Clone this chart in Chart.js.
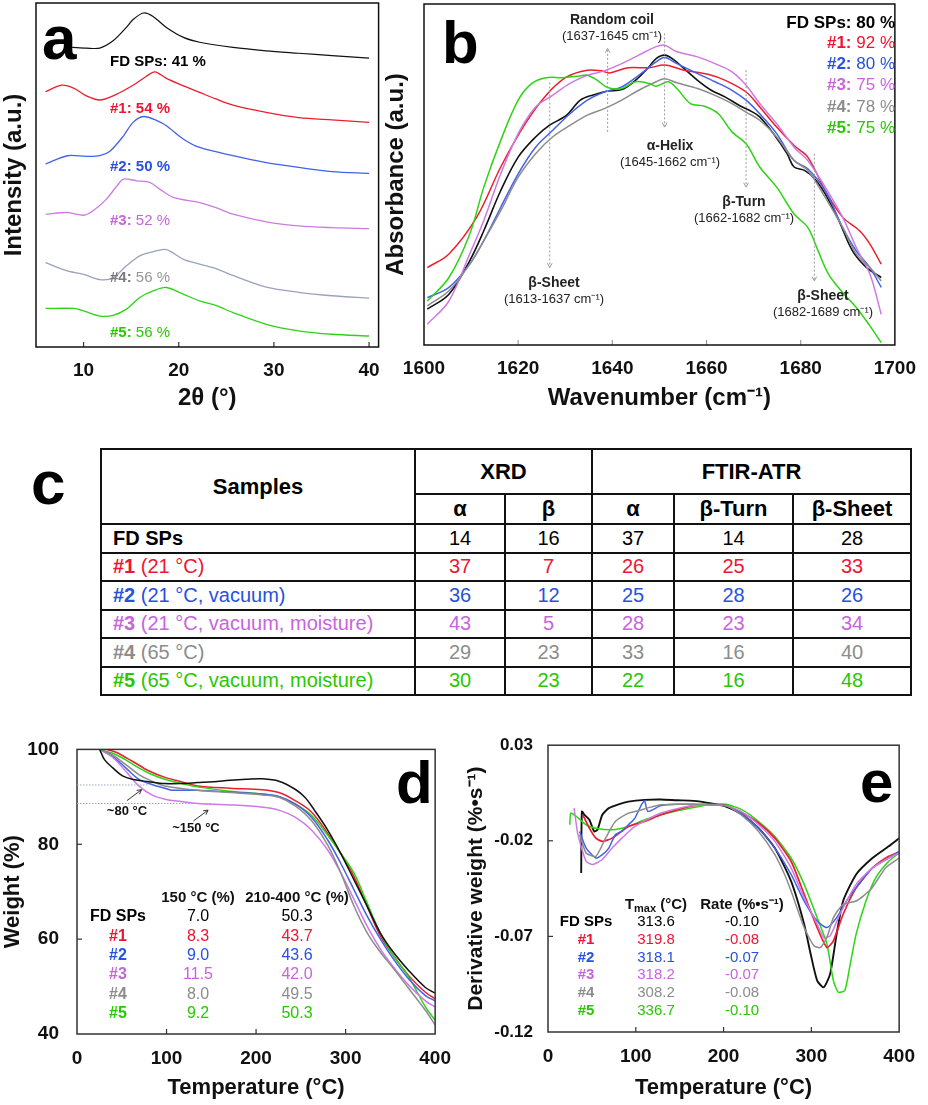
<!DOCTYPE html>
<html>
<head>
<meta charset="utf-8">
<script src="https://cdn.jsdelivr.net/npm/chart.js@4.4.1/dist/chart.umd.min.js"></script>
<style>
body{margin:0;background:#fff;width:928px;height:1105px;position:relative;overflow:hidden;font-family:"Liberation Sans",Arial,sans-serif}
canvas{position:absolute}
#ca{left:0;top:0}
#cb{left:380px;top:0}
#cd{left:0;top:720px}
#ce{left:464px;top:720px}
#lc{position:absolute;left:31px;top:452px;font:bold 62px/62px "Liberation Sans",Arial,sans-serif;color:#000}
#tc{position:absolute;left:100px;top:448px;width:810px;border-collapse:collapse;table-layout:fixed;font-size:20px;color:#000}
#tc td,#tc th{border:2px solid #111;text-align:center;padding:0;white-space:nowrap}
#tc th{font-size:22px;font-weight:bold}
#tc tr.h1{height:45px}
#tc tr.h2{height:30px}
#tc tr.d{height:28.5px}
#tc td.s{text-align:left;padding-left:11px}
</style>
</head>
<body>
<canvas id="ca" width="392" height="420"></canvas>
<canvas id="cb" width="548" height="420"></canvas>
<div id="lc">c</div>
<table id="tc"></table>
<canvas id="cd" width="464" height="385"></canvas>
<canvas id="ce" width="464" height="385"></canvas>
<script>
// ---- samples ----
const sampleNames = ['FD SPs', '#1', '#2', '#3', '#4', '#5'];
const sampleConds = ['', ' (21 \u00b0C)', ' (21 \u00b0C, vacuum)', ' (21 \u00b0C, vacuum, moisture)', ' (65 \u00b0C)', ' (65 \u00b0C, vacuum, moisture)'];
const lineColors = ['#111111', 'rgb(236,30,46)', 'rgb(66,98,232)', 'rgb(206,122,226)', 'rgb(135,135,140)', 'rgb(44,212,20)'];
const textColors = ['#000000', 'rgb(240,20,50)', 'rgb(40,80,225)', 'rgb(200,100,222)', 'rgb(140,140,140)', 'rgb(40,200,0)'];
const xrdGray = 'rgb(155,162,188)';

// ---- (a) XRD ----
const xrdTicks = [10, 20, 30, 40];
const xrdCryst = ['41 %', '54 %', '50 %', '52 %', '56 %', '56 %'];
const thetaFD = [8.8, 10.3, 11.7, 13.1, 14.5, 15.2, 16.3, 17.3, 18.7, 20.5, 22.2, 25.7, 29.2, 32.6, 36.1, 40.0];
const intFD = [87.1, 86.9, 86.9, 89.0, 92.9, 95.2, 97.1, 96.1, 92.9, 90.0, 88.6, 87.1, 86.1, 85.4, 84.7, 84.0];
const theta1 = [6.0, 7.7, 9.0, 10.3, 11.7, 13.1, 15.2, 16.6, 17.5, 18.7, 20.5, 22.2, 23.9, 25.7, 29.2, 32.6, 36.1, 40.0];
const int1 = [74.2, 76.1, 75.2, 73.0, 71.8, 73.0, 76.1, 78.7, 80.0, 78.1, 75.9, 74.0, 72.1, 70.3, 68.2, 66.7, 66.0, 65.3];
const theta2 = [6.0, 8.3, 10.3, 11.7, 12.8, 14.2, 15.2, 16.3, 17.7, 18.7, 20.5, 22.2, 25.7, 29.2, 32.6, 36.1, 40.0];
const int2 = [53.2, 55.6, 55.4, 55.6, 57.0, 61.4, 65.3, 67.0, 65.8, 64.3, 60.4, 58.0, 55.6, 53.6, 52.2, 51.0, 50.5];
const theta3 = [6.0, 8.3, 10.0, 11.0, 12.4, 13.5, 14.2, 15.6, 17.0, 18.0, 19.4, 22.2, 23.9, 25.7, 29.2, 32.6, 36.1, 40.0];
const int3 = [38.6, 39.1, 38.3, 39.6, 43.0, 46.8, 48.8, 48.3, 47.8, 45.9, 43.5, 42.0, 40.5, 38.6, 36.4, 35.2, 34.7, 34.4];
const theta4 = [6.0, 8.3, 10.0, 11.7, 13.1, 14.5, 15.9, 17.3, 18.7, 20.5, 22.2, 23.9, 25.7, 29.2, 32.6, 36.1, 40.0];
const int4 = [24.5, 22.1, 21.1, 19.6, 20.1, 23.6, 26.5, 27.7, 28.3, 25.5, 24.1, 22.8, 20.8, 17.4, 15.9, 14.9, 14.2];
const theta5 = [6.0, 9.0, 10.0, 11.7, 13.1, 14.5, 15.9, 17.3, 18.7, 20.5, 22.2, 23.9, 25.7, 29.2, 32.6, 36.1, 40.0];
const int5 = [11.2, 11.2, 10.5, 9.0, 9.2, 11.0, 14.4, 16.3, 17.3, 15.3, 13.4, 12.1, 10.0, 6.6, 4.7, 3.7, 3.2];

// ---- (b) FTIR ----
const ftirTicks = [1600, 1620, 1640, 1660, 1680, 1700];
const ftirPct = ['80 %', '92 %', '80 %', '75 %', '78 %', '75 %'];
const wnFD = [1600.7, 1605.3, 1609.7, 1612.7, 1616.3, 1620.0, 1623.7, 1626.6, 1630.3, 1633.2, 1636.1, 1639.0, 1642.0, 1644.9, 1647.8, 1649.3, 1651.1, 1653.0, 1655.2, 1658.1, 1661.0, 1664.0, 1666.9, 1669.8, 1671.3, 1674.2, 1677.1, 1678.6, 1680.8, 1683.0, 1685.2, 1688.1, 1691.0, 1694.0, 1697.1];
const absFD = [10.5, 14.9, 24.7, 33.5, 45.3, 55.1, 61.0, 64.4, 67.4, 71.8, 73.4, 74.5, 74.9, 77.6, 81.6, 84.0, 85.0, 83.7, 81.1, 77.6, 74.7, 72.7, 70.3, 68.3, 66.9, 62.0, 56.1, 52.2, 51.2, 48.7, 44.3, 36.5, 27.6, 22.7, 19.8];
const wn1 = [1600.7, 1605.3, 1611.2, 1616.3, 1621.5, 1625.9, 1630.3, 1634.7, 1637.6, 1639.4, 1643.4, 1647.8, 1651.1, 1655.2, 1660.3, 1664.0, 1668.4, 1671.3, 1674.9, 1678.6, 1681.5, 1685.2, 1688.9, 1692.5, 1694.7, 1697.1];
const abs1 = [22.7, 26.7, 37.5, 52.2, 64.9, 73.2, 78.6, 80.6, 80.4, 79.8, 81.3, 81.3, 82.1, 80.6, 79.4, 77.6, 74.2, 69.8, 63.9, 58.5, 55.1, 45.3, 37.5, 33.5, 29.6, 23.7];
const wnCommon = [1600.7, 1605.3, 1609.7, 1612.7, 1616.3, 1620.0, 1623.7, 1627.3, 1631.0, 1634.7, 1638.3, 1642.0, 1645.6, 1649.3, 1651.1, 1653.7, 1658.1, 1661.8, 1665.4, 1668.4, 1671.3, 1674.9, 1678.6, 1681.5, 1685.2, 1688.9, 1691.8, 1694.7, 1697.1];
const abs2 = [13.9, 16.9, 23.7, 30.6, 40.4, 50.2, 58.0, 62.9, 67.8, 71.8, 74.2, 75.7, 79.1, 83.0, 84.3, 82.5, 79.6, 77.2, 74.7, 71.8, 67.8, 62.0, 54.1, 51.7, 45.3, 34.5, 27.6, 22.7, 16.9];
const abs3 = [6.1, 12.9, 26.7, 36.5, 50.2, 62.0, 69.8, 73.2, 76.7, 79.1, 80.4, 82.5, 85.0, 87.5, 87.9, 86.0, 84.5, 82.5, 80.1, 76.2, 70.8, 64.9, 58.0, 54.1, 46.3, 37.5, 28.6, 20.8, 9.0];
const abs4 = [11.5, 15.9, 23.7, 30.6, 39.4, 49.2, 56.1, 61.0, 64.4, 67.4, 69.3, 71.8, 74.7, 77.2, 78.1, 76.9, 75.2, 73.2, 70.8, 68.3, 65.9, 61.0, 54.1, 51.2, 43.3, 34.5, 26.7, 22.7, 18.8];
const wn5 = [1600.7, 1605.3, 1609.7, 1612.7, 1616.3, 1620.0, 1622.9, 1625.9, 1629.5, 1632.5, 1634.7, 1636.8, 1639.0, 1642.0, 1644.9, 1647.8, 1649.3, 1651.9, 1653.7, 1656.6, 1659.6, 1662.5, 1665.4, 1668.4, 1671.3, 1674.9, 1678.6, 1681.5, 1683.7, 1685.9, 1688.9, 1691.8, 1694.7, 1697.1];
const abs5 = [12.9, 19.8, 32.5, 46.3, 60.0, 71.8, 76.7, 78.4, 78.4, 78.8, 79.1, 77.6, 75.5, 75.2, 77.2, 76.7, 75.9, 77.2, 75.2, 70.8, 70.0, 67.8, 62.5, 59.0, 52.2, 46.3, 38.4, 34.5, 27.6, 20.8, 15.4, 11.0, 5.6, 0.7];
const bandNames = ['Random coil', '\u03b1-Helix', '\u03b2-Turn', '\u03b2-Sheet', '\u03b2-Sheet'];
const bandRanges = ['(1637-1645 cm\u207b\u00b9)', '(1645-1662 cm\u207b\u00b9)', '(1662-1682 cm\u207b\u00b9)', '(1613-1637 cm\u207b\u00b9)', '(1682-1689 cm\u207b\u00b9)'];

// ---- (c) table ----
const xrdAlpha = [14, 37, 36, 43, 29, 30];
const xrdBeta = [16, 7, 12, 5, 23, 23];
const ftirAlpha = [37, 26, 25, 28, 33, 22];
const ftirTurn = [14, 25, 28, 23, 16, 16];
const ftirSheet = [28, 33, 26, 34, 40, 48];

// ---- (d) TGA ----
const tempTicks = [0, 100, 200, 300, 400];
const weightTicks = [40, 60, 80, 100];
const loss150 = ['7.0', '8.3', '9.0', '11.5', '8.0', '9.2'];
const loss400 = ['50.3', '43.7', '43.6', '42.0', '49.5', '50.3'];
const tFD = [25.5, 30.9, 40, 50.9, 61.8, 80, 98.2, 116.4, 134.5, 152.7, 170.9, 189.1, 207.3, 225.5, 243.6, 254.5, 265.5, 280, 294.5, 309.1, 323.6, 338.2, 352.7, 370.9, 389.1, 400];
const wFD = [99.9, 97.8, 96.1, 94.4, 93.7, 93.2, 92.8, 92.8, 93.0, 93.2, 93.5, 93.7, 93.8, 93.3, 91.6, 89.9, 87.1, 83.0, 78.1, 72.6, 67.1, 61.5, 57.4, 53.3, 49.8, 48.6];
const t1 = [32.7, 43.6, 61.8, 80, 98.2, 116.4, 134.5, 170.9, 207.3, 225.5, 243.6, 261.8, 280, 294.5, 309.1, 323.6, 338.2, 352.7, 370.9, 389.1, 400];
const w1 = [100, 99.4, 97.5, 95.5, 94.1, 93.2, 92.3, 91.8, 91.5, 90.9, 89.2, 86.8, 82.3, 78.1, 73.3, 67.1, 60.9, 56.7, 52.2, 48.8, 47.4];
const t2 = [25.5, 40, 54.5, 69.1, 83.6, 98.2, 105.5, 134.5, 170.9, 207.3, 225.5, 243.6, 261.8, 280, 294.5, 309.1, 323.6, 338.2, 352.7, 370.9, 389.1, 400];
const w2 = [100, 98.5, 96.1, 93.7, 92.6, 91.8, 91.4, 91.4, 91.0, 90.6, 90.1, 88.5, 85.7, 80.9, 76.0, 70.5, 65.0, 60.2, 56.0, 51.5, 48.1, 47.0];
const t3 = [25.5, 40, 54.5, 69.1, 83.6, 98.2, 116.4, 134.5, 170.9, 207.3, 225.5, 243.6, 261.8, 280, 294.5, 309.1, 323.6, 338.2, 352.7, 370.9, 389.1, 400];
const w3 = [100, 98.3, 95.4, 92.3, 90.4, 89.5, 89.0, 88.6, 88.3, 87.8, 87.2, 85.7, 83.0, 78.8, 74.0, 68.5, 62.9, 58.1, 54.3, 50.2, 47.0, 45.7];
const t4 = [25.5, 40, 54.5, 69.1, 83.6, 98.2, 134.5, 170.9, 207.3, 225.5, 243.6, 261.8, 280, 294.5, 309.1, 323.6, 338.2, 352.7, 370.9, 389.1, 400];
const w4 = [100, 98.8, 96.8, 94.7, 93.3, 92.3, 91.4, 90.9, 90.4, 89.9, 88.1, 85.0, 79.8, 74.0, 67.1, 61.5, 57.4, 54.0, 49.5, 45.0, 41.9];
const t5 = [25.5, 40, 54.5, 69.1, 83.6, 98.2, 116.4, 134.5, 170.9, 207.3, 225.5, 243.6, 261.8, 280, 294.5, 309.1, 323.6, 338.2, 352.7, 370.9, 389.1, 400];
const w5 = [99.9, 99.2, 97.8, 96.1, 94.7, 93.7, 92.8, 92.1, 91.2, 90.6, 90.0, 88.5, 86.1, 81.9, 78.1, 74.0, 67.8, 61.5, 56.7, 51.9, 45.7, 42.9];

// ---- (e) DTG ----
const dtgTicks = [-0.12, -0.07, -0.02, 0.03];
const dtgTmax = ['313.6', '319.8', '318.1', '318.2', '308.2', '336.7'];
const dtgRate = ['-0.10', '-0.08', '-0.07', '-0.07', '-0.08', '-0.10'];
const dtFD = [37.8, 38.6, 41.5, 47.1, 52.6, 56.3, 61.9, 69.3, 80.4, 91.6, 110, 128.6, 147.2, 165.7, 184.2, 202.8, 221.3, 239.9, 258.4, 276.9, 291.8, 299.2, 306.6, 314, 321.4, 328.8, 336.2, 351, 369.6, 388.1, 400];
const dFD = [-0.0368, -0.0047, -0.0064, -0.009, -0.0151, -0.0142, -0.0064, -0.0029, -0.0009, 0.0005, 0.0014, 0.0016, 0.0012, 0.0009, -0.0003, -0.0021, -0.0064, -0.0134, -0.0238, -0.0411, -0.0636, -0.0792, -0.0931, -0.0966, -0.0896, -0.0688, -0.0515, -0.0376, -0.029, -0.0229, -0.0186];
const dt1 = [39.7, 47.1, 54.5, 61.9, 73, 91.6, 110, 128.6, 147.2, 165.7, 184.2, 202.8, 221.3, 239.9, 258.4, 276.9, 291.8, 306.6, 317.7, 325.1, 336.2, 351, 369.6, 388.1, 400];
const d1 = [-0.0064, -0.0134, -0.0186, -0.0203, -0.0186, -0.0125, -0.0099, -0.0064, -0.0038, -0.0016, -0.0009, -0.0016, -0.0055, -0.0107, -0.0186, -0.0307, -0.048, -0.0654, -0.0758, -0.0723, -0.0584, -0.0446, -0.0342, -0.0281, -0.0258];
const dt2 = [36, 43.4, 54.5, 61.9, 69.3, 76.7, 84.2, 91.6, 99, 106.4, 110, 113.8, 128.6, 147.2, 165.7, 202.8, 221.3, 239.9, 258.4, 276.9, 291.8, 306.6, 317.7, 328.8, 340, 351, 369.6, 388.1, 400];
const d2 = [-0.0151, -0.0238, -0.029, -0.0272, -0.0238, -0.0168, -0.0151, -0.0116, -0.0081, -0.0012, 0.0009, -0.0047, -0.0016, -0.0009, -0.0009, -0.0016, -0.0061, -0.0134, -0.0238, -0.0376, -0.0515, -0.0619, -0.0654, -0.0602, -0.0515, -0.0446, -0.0342, -0.029, -0.0255];
const dt3 = [29.7, 34.1, 43.4, 50.8, 61.9, 73, 84.2, 99, 128.6, 165.7, 202.8, 221.3, 239.9, 258.4, 276.9, 291.8, 306.6, 314, 321.4, 332.5, 351, 369.6, 388.1, 400];
const d3 = [-0.0029, -0.0168, -0.0307, -0.0324, -0.0298, -0.0238, -0.0186, -0.0125, -0.0055, -0.0016, -0.0016, -0.005, -0.0116, -0.0203, -0.0342, -0.0498, -0.0636, -0.0706, -0.0697, -0.0584, -0.0428, -0.0342, -0.029, -0.0264];
const dt4 = [36, 43.4, 54.5, 65.6, 76.7, 91.6, 99, 128.6, 165.7, 202.8, 221.3, 239.9, 258.4, 269.5, 276.9, 291.8, 302.9, 310.3, 317.7, 325.1, 336.2, 351, 367.8, 384.5, 400];
const d4 = [-0.0168, -0.0264, -0.0281, -0.0186, -0.0099, -0.0055, -0.0047, -0.0012, -0.0009, -0.0017, -0.0068, -0.0151, -0.0272, -0.0376, -0.0463, -0.0654, -0.0749, -0.0758, -0.0706, -0.0602, -0.0532, -0.0515, -0.0454, -0.0342, -0.029];
const dt5 = [24.8, 26, 32.3, 43.4, 54.5, 73, 91.6, 110, 128.6, 147.2, 165.7, 184.2, 202.8, 221.3, 239.9, 258.4, 276.9, 291.8, 306.6, 317.7, 325.1, 330.7, 338.1, 343.6, 351, 362.2, 373.3, 388.1, 400];
const d5 = [-0.0116, -0.0055, -0.0073, -0.0116, -0.0134, -0.0142, -0.0125, -0.009, -0.0064, -0.0043, -0.0026, -0.0012, -0.0009, -0.0038, -0.0099, -0.0177, -0.029, -0.0428, -0.0602, -0.074, -0.0931, -0.0992, -0.0983, -0.0862, -0.0688, -0.0515, -0.0394, -0.0307, -0.0264];

const FAM = '"Liberation Sans", Arial, sans-serif';
const F = (s, b) => (b ? 'bold ' : '') + s + 'px ' + FAM;
const zip = (xs, ys) => xs.map((x, i) => ({x: x, y: ys[i]}));

function series(xs, ys, color, w, tension) {
  return {data: zip(xs, ys), borderColor: color, borderWidth: w, pointRadius: 0, tension: tension, fill: false};
}

// draw a row of text pieces with different fonts / colours
function runs(ctx, x, y, parts, align) {
  let w = 0;
  parts.forEach(p => { ctx.font = p.f; p.w = ctx.measureText(p.t).width; w += p.w; });
  let cx = align === 'center' ? x - w / 2 : align === 'right' ? x - w : x;
  ctx.textBaseline = 'middle';
  ctx.textAlign = 'left';
  parts.forEach(p => { ctx.font = p.f; ctx.fillStyle = p.c; ctx.fillText(p.t, cx, y + (p.dy || 0)); cx += p.w; });
}

function arrowHead(ctx, x1, y1, x2, y2, size) {
  const a = Math.atan2(y2 - y1, x2 - x1);
  ctx.beginPath();
  ctx.moveTo(x2 - size * Math.cos(a - 0.5), y2 - size * Math.sin(a - 0.5));
  ctx.lineTo(x2, y2);
  ctx.lineTo(x2 - size * Math.cos(a + 0.5), y2 - size * Math.sin(a + 0.5));
  ctx.stroke();
}

function decor(cfg) {
  return {
    id: 'decor',
    afterDatasetsDraw(chart) {
      const ctx = chart.ctx, a = chart.chartArea, x = chart.scales.x, y = chart.scales.y;
      ctx.save();
      ctx.strokeStyle = cfg.tickColor || '#333';
      ctx.lineWidth = 1.2;
      (cfg.xTicks || []).forEach(v => {
        const p = x.getPixelForValue(v);
        ctx.beginPath(); ctx.moveTo(p, a.bottom); ctx.lineTo(p, a.bottom - 5); ctx.stroke();
      });
      (cfg.yTicks || []).forEach(v => {
        const p = y.getPixelForValue(v);
        ctx.beginPath(); ctx.moveTo(a.left, p); ctx.lineTo(a.left + 5, p); ctx.stroke();
      });
      ctx.strokeStyle = cfg.frameColor || '#222';
      ctx.lineWidth = cfg.frameWidth || 1.5;
      ctx.strokeRect(a.left, a.top, a.right - a.left, a.bottom - a.top);
      if (cfg.draw) cfg.draw(ctx, x, y, a);
      ctx.font = F(cfg.letterSize || 60, true);
      ctx.fillStyle = '#000';
      ctx.textAlign = 'left';
      ctx.textBaseline = 'alphabetic';
      ctx.fillText(cfg.letter, cfg.letterX, cfg.letterY);
      ctx.restore();
    }
  };
}

function axes(o) {
  return {
    x: {
      type: 'linear', min: o.xmin, max: o.xmax,
      afterBuildTicks: s => { s.ticks = o.xt.map(v => ({value: v})); },
      afterFit: s => { s.height = o.xh; },
      grid: {display: false, drawTicks: false}, border: {display: false},
      ticks: {padding: o.xpad, color: '#111', font: {family: FAM, weight: 'bold', size: o.tsize}, maxRotation: 0, autoSkip: false, callback: v => String(v)},
      title: {display: true, text: o.xtitle, color: '#111', font: {family: FAM, weight: 'bold', size: o.titleSize}, padding: {top: 0, bottom: o.xtpad}}
    },
    y: {
      type: 'linear', min: o.ymin, max: o.ymax,
      afterBuildTicks: s => { s.ticks = (o.yt || []).map(v => ({value: v})); },
      afterFit: s => { s.width = o.yw; },
      grid: {display: false, drawTicks: false}, border: {display: false},
      ticks: {display: !!o.yt, padding: o.ypad || 0, color: '#111', font: {family: FAM, weight: 'bold', size: o.ytsize || o.tsize}, callback: o.yfmt || (v => String(v))},
      title: {display: true, text: o.ytitle, color: '#111', font: {family: FAM, weight: 'bold', size: o.ytitleSize || o.titleSize}, padding: {top: o.ytpad || 0, bottom: 0}}
    }
  };
}

function base(sets, scales, padding, plugin) {
  return {
    type: 'line',
    data: {datasets: sets},
    options: {
      responsive: false, animation: false, events: [],
      layout: {padding: padding},
      plugins: {legend: {display: false}, tooltip: {enabled: false}},
      scales: scales
    },
    plugins: [plugin]
  };
}

// ---- panel a ----
const aLabelY = [62, 109, 167, 221, 278, 333];
new Chart(document.getElementById('ca'), base(
  [
    series(thetaFD, intFD, lineColors[0], 1.2, 0.3),
    series(theta1, int1, lineColors[1], 1.3, 0.3),
    series(theta2, int2, lineColors[2], 1.3, 0.3),
    series(theta3, int3, lineColors[3], 1.3, 0.3),
    series(theta4, int4, xrdGray, 1.3, 0.3),
    series(theta5, int5, lineColors[5], 1.3, 0.3)
  ],
  axes({xmin: 5, xmax: 41, xt: xrdTicks, xh: 73, xpad: 12, tsize: 19, xtitle: '2\u03b8 (\u00b0)', titleSize: 24, xtpad: 7,
        ymin: 0, ymax: 100, yw: 36, ytitle: 'Intensity (a.u.)'}),
  {top: 3, right: 13, left: 0, bottom: 0},
  decor({
    xTicks: xrdTicks, letter: 'a', letterX: 42, letterY: 59, letterSize: 62, frameColor: '#111',
    draw(ctx) {
      sampleNames.forEach((n, i) => {
        const c = i === 4 ? 'rgb(120,120,125)' : textColors[i];
        runs(ctx, 110, aLabelY[i], [{t: n + ': ', f: F(15, true), c: c}, {t: xrdCryst[i], f: F(15, i < 3), c: i === 4 ? 'rgb(150,150,150)' : c}], 'left');
      });
    }
  })
));

// ---- panel b ----
const bLegendY = [23, 43, 64, 85, 107, 128];
const bandArrows = [
  {x: 1639.0, from: 62.5, to: 87.0},
  {x: 1651.1, from: 91.4, to: 63.9},
  {x: 1668.4, from: 80.6, to: 46.3},
  {x: 1626.7, from: 77.0, to: 22.7},
  {x: 1682.9, from: 56.1, to: 18.8}
];
const bandTextPos = [[232, 20], [290, 146], [364, 202], [174, 283], [443, 296]];
new Chart(document.getElementById('cb'), base(
  [
    series(wn5, abs5, lineColors[5], 1.5, 0.35),
    series(wnCommon, abs4, 'rgb(140,140,140)', 1.5, 0.35),
    series(wnCommon, abs3, lineColors[3], 1.5, 0.35),
    series(wnCommon, abs2, lineColors[2], 1.5, 0.35),
    series(wn1, abs1, lineColors[1], 1.5, 0.35),
    series(wnFD, absFD, lineColors[0], 1.6, 0.35)
  ],
  axes({xmin: 1600, xmax: 1700, xt: ftirTicks, xh: 75, xpad: 12, tsize: 19, xtitle: 'Wavenumber (cm\u207b\u00b9)', titleSize: 24, xtpad: 7,
        ymin: 0, ymax: 100, yw: 44, ytitle: 'Absorbance (a.u.)', ytpad: 2}),
  {top: 4, right: 24, left: 0, bottom: 0},
  decor({
    xTicks: [1620, 1640, 1660, 1680], tickColor: '#999', letter: 'b', letterX: 62, letterY: 63, letterSize: 60, frameColor: '#111',
    draw(ctx, x, y) {
      ctx.strokeStyle = '#9a9a9a';
      ctx.lineWidth = 1;
      bandArrows.forEach(b => {
        const px = x.getPixelForValue(b.x), y1 = y.getPixelForValue(b.from), y2 = y.getPixelForValue(b.to);
        ctx.setLineDash([2, 2]);
        ctx.beginPath(); ctx.moveTo(px, y1); ctx.lineTo(px, y2); ctx.stroke();
        ctx.setLineDash([]);
        arrowHead(ctx, px, y1, px, y2, 5);
      });
      bandNames.forEach((n, i) => {
        const p = bandTextPos[i];
        runs(ctx, p[0], p[1], [{t: n, f: F(14, true), c: '#222'}], 'center');
        runs(ctx, p[0], p[1] + 16, [{t: bandRanges[i], f: F(13, false), c: '#222'}], 'center');
      });
      sampleNames.forEach((n, i) => {
        runs(ctx, 515, bLegendY[i], [{t: n + ': ', f: F(17, true), c: textColors[i]}, {t: ftirPct[i], f: F(17, i === 0), c: textColors[i]}], 'right');
      });
    }
  })
));

// ---- table c ----
(function () {
  const tb = document.getElementById('tc');
  let h = '<colgroup><col style="width:314px"><col style="width:90px"><col style="width:87px"><col style="width:82px"><col style="width:119px"><col style="width:118px"></colgroup>';
  h += '<tr class="h1"><th rowspan="2">Samples</th><th colspan="2">XRD</th><th colspan="3">FTIR-ATR</th></tr>';
  h += '<tr class="h2"><th>\u03b1</th><th>\u03b2</th><th>\u03b1</th><th>\u03b2-Turn</th><th>\u03b2-Sheet</th></tr>';
  sampleNames.forEach((n, i) => {
    const c = textColors[i];
    h += '<tr class="d" style="color:' + c + '"><td class="s"><b>' + n + '</b>' + sampleConds[i] + '</td>' +
      '<td>' + xrdAlpha[i] + '</td><td>' + xrdBeta[i] + '</td><td>' + ftirAlpha[i] + '</td><td>' + ftirTurn[i] + '</td><td>' + ftirSheet[i] + '</td></tr>';
  });
  tb.innerHTML = h;
})();

// ---- panel d ----
const dRowY = [197, 217, 236, 255, 275, 294];
new Chart(document.getElementById('cd'), base(
  [
    series(tFD, wFD, lineColors[0], 1.5, 0.35),
    series(t4, w4, 'rgb(140,140,140)', 1.5, 0.35),
    series(t3, w3, lineColors[3], 1.5, 0.35),
    series(t2, w2, lineColors[2], 1.5, 0.35),
    series(t5, w5, lineColors[5], 1.5, 0.35),
    series(t1, w1, lineColors[1], 1.5, 0.35)
  ],
  axes({xmin: 0, xmax: 400, xt: tempTicks, xh: 71, xpad: 13, tsize: 19, xtitle: 'Temperature (\u00b0C)', titleSize: 22, xtpad: 4,
        ymin: 40, ymax: 100, yt: weightTicks, yw: 77, ypad: 18, ytitle: 'Weight (%)'}),
  {top: 24, right: 21, left: 0, bottom: 0},
  decor({
    xTicks: [100, 200, 300], yTicks: [60, 80], letter: 'd', letterX: 396, letterY: 83, letterSize: 60, frameColor: '#333',
    draw(ctx, x, y) {
      ctx.strokeStyle = 'rgb(150,170,190)';
      ctx.lineWidth = 1;
      ctx.setLineDash([1.5, 1.5]);
      [[92.5, 80], [88.6, 150]].forEach(r => {
        ctx.beginPath(); ctx.moveTo(x.getPixelForValue(0), y.getPixelForValue(r[0])); ctx.lineTo(x.getPixelForValue(r[1]), y.getPixelForValue(r[0])); ctx.stroke();
      });
      ctx.setLineDash([]);
      ctx.strokeStyle = '#333';
      [[55.7, 89.2, 72.1, 91.5], [130, 84.9, 146.4, 87.2]].forEach(r => {
        const x1 = x.getPixelForValue(r[0]), y1 = y.getPixelForValue(r[1]), x2 = x.getPixelForValue(r[2]), y2 = y.getPixelForValue(r[3]);
        ctx.beginPath(); ctx.moveTo(x1, y1); ctx.lineTo(x2, y2); ctx.stroke();
        arrowHead(ctx, x1, y1, x2, y2, 5);
      });
      runs(ctx, 127, 91, [{t: '~80 \u00b0C', f: F(13, true), c: '#111'}], 'center');
      runs(ctx, 196, 108, [{t: '~150 \u00b0C', f: F(13, true), c: '#111'}], 'center');
      runs(ctx, 198, 178, [{t: '150 \u00b0C (%)', f: F(15, true), c: '#111'}], 'center');
      runs(ctx, 297, 178, [{t: '210-400 \u00b0C (%)', f: F(15, true), c: '#111'}], 'center');
      sampleNames.forEach((n, i) => {
        const c = textColors[i];
        runs(ctx, 118, dRowY[i], [{t: n, f: F(16, true), c: c}], 'center');
        runs(ctx, 198, dRowY[i], [{t: loss150[i], f: F(16, false), c: c}], 'center');
        runs(ctx, 297, dRowY[i], [{t: loss400[i], f: F(16, false), c: c}], 'center');
      });
    }
  })
));

// ---- panel e ----
const eRowY = [202, 220, 238, 255, 273, 291];
new Chart(document.getElementById('ce'), base(
  [
    series(dt4, d4, 'rgb(140,140,140)', 1.5, 0.2),
    series(dt3, d3, lineColors[3], 1.5, 0.2),
    series(dt2, d2, lineColors[2], 1.5, 0.2),
    series(dt1, d1, lineColors[1], 1.7, 0.2),
    series(dt5, d5, lineColors[5], 1.5, 0.2),
    series(dtFD, dFD, lineColors[0], 1.9, 0.2)
  ],
  axes({xmin: 0, xmax: 400, xt: tempTicks, xh: 73, xpad: 13, tsize: 19, xtitle: 'Temperature (\u00b0C)', titleSize: 22, xtpad: 4,
        ymin: -0.12, ymax: 0.03, yt: dtgTicks, yw: 84, ypad: 15, ytsize: 17, yfmt: v => v.toFixed(2), ytitle: 'Derivative weight (%\u2022s\u207b\u00b9)', ytitleSize: 21}),
  {top: 23, right: 20, left: 0, bottom: 0},
  decor({
    xTicks: [100, 200, 300], yTicks: [-0.07, -0.02], letter: 'e', letterX: 396, letterY: 82, letterSize: 60, frameColor: '#333',
    draw(ctx) {
      runs(ctx, 192, 185, [{t: 'T', f: F(15, true), c: '#111'}, {t: 'max', f: F(11, true), c: '#111', dy: 4}, {t: ' (\u00b0C)', f: F(15, true), c: '#111'}], 'center');
      runs(ctx, 278, 185, [{t: 'Rate (%\u2022s\u207b\u00b9)', f: F(15, true), c: '#111'}], 'center');
      sampleNames.forEach((n, i) => {
        const c = textColors[i];
        runs(ctx, 122, eRowY[i], [{t: n, f: F(15, true), c: c}], 'center');
        runs(ctx, 192, eRowY[i], [{t: dtgTmax[i], f: F(15, false), c: c}], 'center');
        runs(ctx, 278, eRowY[i], [{t: dtgRate[i], f: F(15, false), c: c}], 'center');
      });
    }
  })
));
</script>
</body>
</html>
